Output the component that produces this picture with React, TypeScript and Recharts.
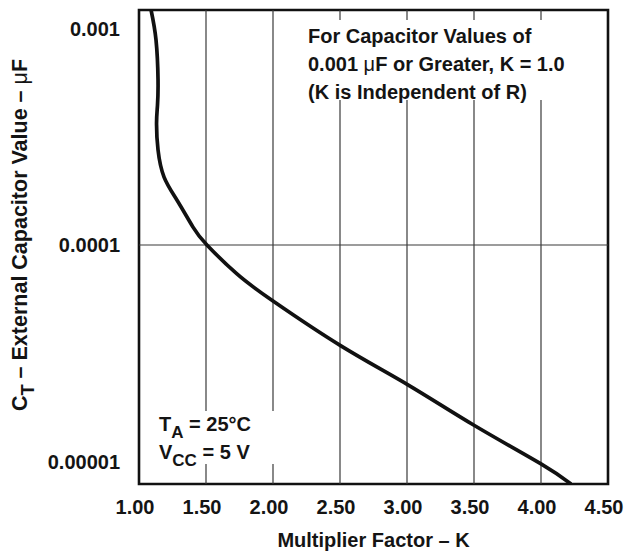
import React from 'react';
import { LineChart, Line, XAxis, YAxis, ReferenceLine, ReferenceArea } from 'recharts';

// multiplier factor K (x) vs external capacitor value in µF (y, log)
const kValues = [1.09, 1.127, 1.142, 1.138, 1.131, 1.142, 1.187, 1.284, 1.403, 1.507, 1.731, 2.0, 2.507, 3.007, 3.5, 4.0, 4.224];
const cValues = [
  0.001218, 0.000885, 0.000578, 0.000443, 0.000366, 0.000275, 0.000206, 0.000161, 0.000121, 0.0001,
  0.0000735, 0.0000551, 0.0000342, 0.0000226, 0.0000147, 0.00000974, 0.00000787,
];

const xTicks = [1, 1.5, 2, 2.5, 3, 3.5, 4, 4.5];
const xTickLabels = ['1.00', '1.50', '2.00', '2.50', '3.00', '3.50', '4.00', '4.50'];
const yTicks = [0.00001, 0.0001, 0.001];
const yTickLabels = ['0.00001', '0.0001', '0.001'];
const xGrid = [1.5, 2, 2.5, 3, 3.5, 4];
const yGrid = [0.0001];

const xDomain: [number, number] = [1, 4.5];
const yDomain: [number, number] = [0.00000787, 0.001218];

const data = kValues.map((k, i) => ({ k, c: cValues[i] }));

const font = '"Liberation Sans", Arial, Helvetica, sans-serif';
const ink = '#141414';
const tickStyle = { fill: ink, fontSize: 20, fontWeight: 700, fontFamily: font };

const Sub = ({ children }: { children: React.ReactNode }) => (
  <span style={{ position: 'relative', top: 7, fontSize: '0.85em' }}>{children}</span>
);

export default function App() {
  return (
    <div
      style={{
        position: 'absolute',
        left: 0,
        top: 0,
        width: 625,
        height: 554,
        background: '#fff',
        fontFamily: font,
        fontWeight: 700,
        color: ink,
      }}
    >
      <LineChart width={625} height={554} data={data} margin={{ top: 10, right: 17, bottom: 0, left: 0 }}>
        <XAxis
          dataKey="k"
          type="number"
          domain={xDomain}
          ticks={xTicks}
          interval={0}
          allowDataOverflow
          tickFormatter={(v) => xTickLabels[xTicks.indexOf(v)]}
          axisLine={false}
          tickLine={false}
          tickSize={0}
          tickMargin={16}
          height={70}
          tick={{ ...tickStyle, dx: -4 }}
        />
        <YAxis
          type="number"
          scale="log"
          domain={yDomain}
          ticks={yTicks}
          interval={0}
          allowDataOverflow
          tickFormatter={(v) => yTickLabels[yTicks.indexOf(v)]}
          axisLine={false}
          tickLine={false}
          tickSize={0}
          tickMargin={19}
          width={139}
          tick={tickStyle}
        />
        {xGrid.map((x) => (
          <ReferenceLine key={'x' + x} x={x} stroke="#3a3a3a" strokeWidth={1.2} />
        ))}
        {yGrid.map((y) => (
          <ReferenceLine key={'y' + y} y={y} stroke="#3a3a3a" strokeWidth={1.2} />
        ))}
        <Line
          dataKey="c"
          type="natural"
          stroke="#111"
          strokeWidth={3.7}
          dot={false}
          activeDot={false}
          isAnimationActive={false}
        />
        <ReferenceArea
          x1={xDomain[0]}
          x2={xDomain[1]}
          y1={yDomain[0]}
          y2={yDomain[1]}
          fill="none"
          fillOpacity={0}
          stroke="#111"
          strokeWidth={2.6}
        />
      </LineChart>

      <div
        style={{
          position: 'absolute',
          left: 300,
          top: 20,
          width: 290,
          height: 80,
          background: '#fff',
          boxSizing: 'border-box',
          paddingLeft: 8,
          paddingTop: 2,
          fontSize: 20,
          lineHeight: '28px',
          whiteSpace: 'nowrap',
        }}
      >
        <div>For Capacitor Values of</div>
        <div>
          0.001 <span style={{ fontWeight: 400 }}>μ</span>F or Greater, K = 1.0
        </div>
        <div>(K is Independent of R)</div>
      </div>

      <div
        style={{
          position: 'absolute',
          left: 150,
          top: 411,
          width: 132,
          height: 53,
          background: '#fff',
          boxSizing: 'border-box',
          paddingLeft: 9,
          fontSize: 20,
          lineHeight: '27px',
          whiteSpace: 'nowrap',
        }}
      >
        <div>
          T<Sub>A</Sub> = 25°C
        </div>
        <div>
          V<Sub>CC</Sub> = 5 V
        </div>
      </div>

      <div
        style={{
          position: 'absolute',
          left: 139,
          width: 469,
          top: 529,
          textAlign: 'center',
          fontSize: 20,
          whiteSpace: 'nowrap',
        }}
      >
        Multiplier Factor – K
      </div>

      <div
        style={{
          position: 'absolute',
          left: 20,
          top: 235,
          transform: 'translate(-50%, -50%) rotate(-90deg)',
          fontSize: 21.5,
          whiteSpace: 'nowrap',
        }}
      >
        C<Sub>T</Sub> – External Capacitor Value – <span style={{ fontWeight: 400 }}>μ</span>F
      </div>
    </div>
  );
}
